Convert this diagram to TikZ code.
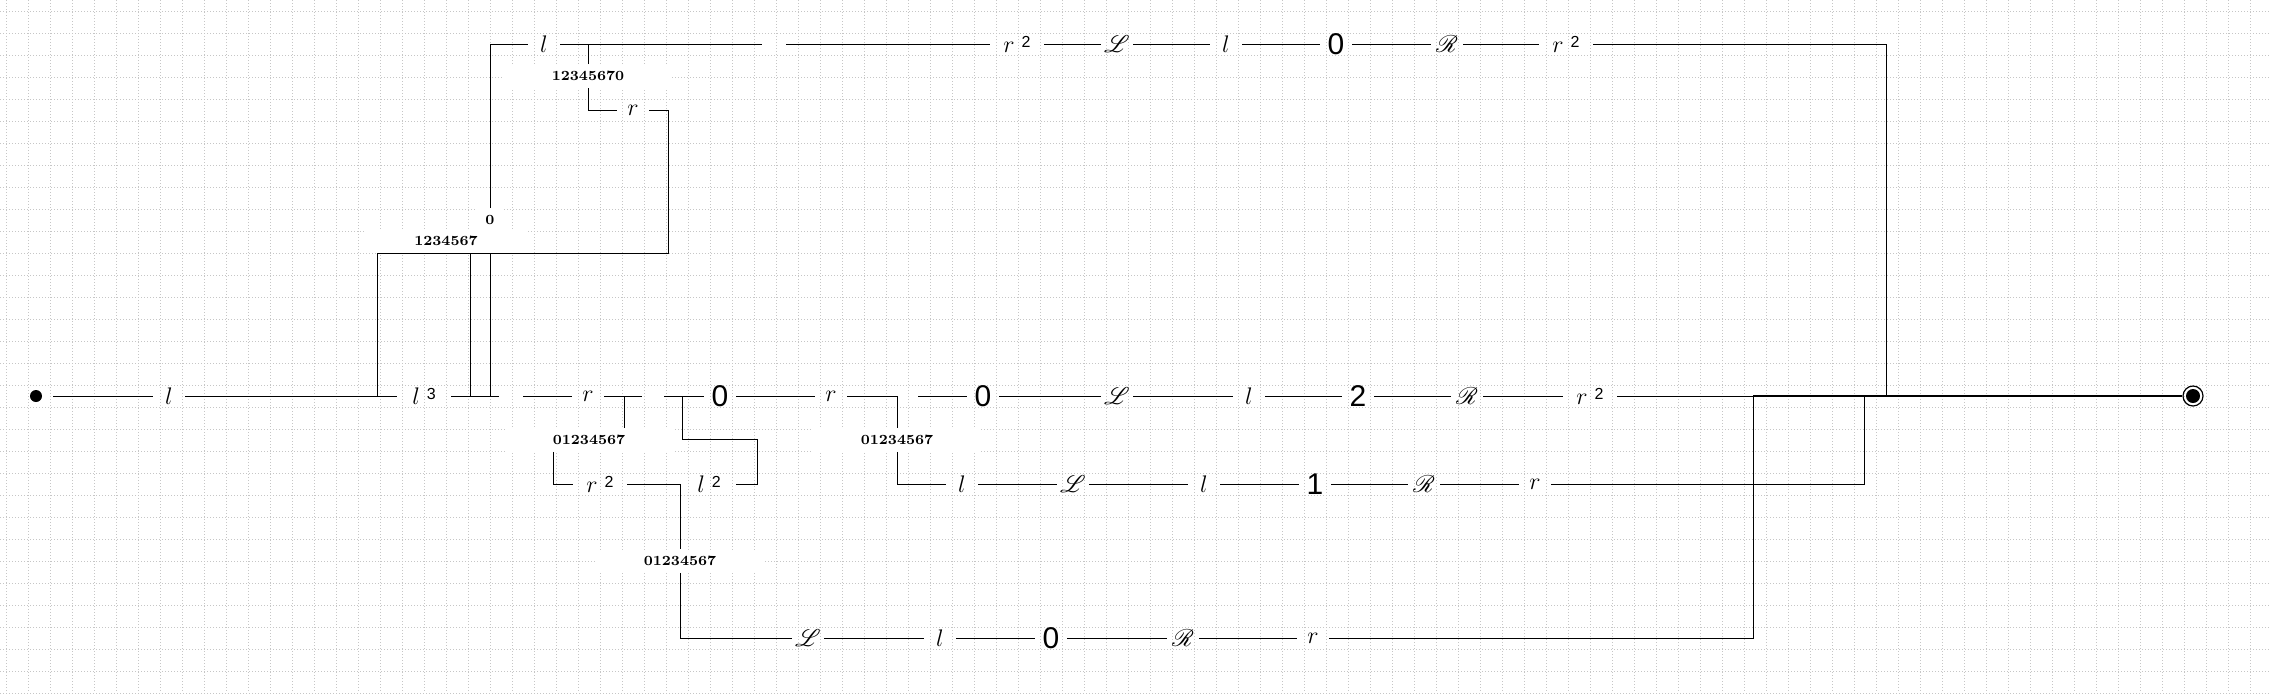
\documentclass[tikz,border=0pt]{standalone}
\usepackage{mathrsfs}
\usepackage{fontspec}
\newfontfamily\numfont{Liberation Sans}
\newcommand{\symexp}[2]{$#1$\hspace{3.5pt}\raisebox{2.5pt}{\numfont\fontsize{8}{8}\selectfont #2}}

\begin{document}
\begin{tikzpicture}[x=0.5pt,y=-0.5pt,
  gridline/.style={gray!45,line width=0.5pt,dash pattern=on 0.5pt off 1pt},
  wire/.style={line width=0.5pt},
  sym/.style={inner sep=0pt,minimum width=16pt,minimum height=10pt,font=\fontsize{12}{12}\selectfont},
  sqr/.style={sym,minimum width=27pt},
  num/.style={sym,font=\numfont\fontsize{15}{15}\selectfont},
  cnt/.style={fill=white,inner xsep=24pt,inner ysep=0pt,minimum height=11.5pt,font=\fontsize{7}{7}\selectfont\bfseries}]
\useasboundingbox (0,0) rectangle (2271,693);
\fill[white] (0,0) rectangle (2271,693);
\foreach \gx in {6,28,...,2271} \draw[gridline] (\gx,0) -- (\gx,693);
\foreach \gy in {11,33,...,693} \draw[gridline] (0,\gy) -- (2271,\gy);

\node[circle,fill,inner sep=0pt,minimum size=6pt,outer sep=5.5pt] (start) at (36,396) {};
\node[sym] (ml) at (169,396) {$l$};
\node[sqr] (ml3) at (424,396) {\symexp{l}{3}};
\node[sym] (mr) at (588,396) {$r$};
\node[num] (mza) at (720,396) {0};
\node[sym] (mrb) at (831,396) {$r$};
\node[num] (mzb) at (983,396) {0};
\node[sym] (mL) at (1117,396) {$\mathscr{L}$};
\node[sym] (mlb) at (1249,396) {$l$};
\node[num] (mtwo) at (1358,396) {2};
\node[sym] (mR) at (1467,396) {$\mathscr{R}$};
\node[sqr] (mr2) at (1590,396) {\symexp{r}{2}};

\node[sym] (tl) at (544,44) {$l$};
\node[sqr] (tr2a) at (1017,44) {\symexp{r}{2}};
\node[sym] (tL) at (1117,44) {$\mathscr{L}$};
\node[sym] (tlb) at (1226,44) {$l$};
\node[num] (tz) at (1336,44) {0};
\node[sym] (tR) at (1447,44) {$\mathscr{R}$};
\node[sqr] (tr2b) at (1566,44) {\symexp{r}{2}};

\node[cnt] (ca) at (588,76) {12345670};
\node[sym] (ur) at (633,110) {$r$};
\node[cnt] (cb) at (446,241) {1234567};
\node[cnt,inner xsep=4pt] (cz) at (490,220) {0};

\node[cnt] (cc) at (589,440) {01234567};
\node[sqr] (sr2) at (600,484) {\symexp{r}{2}};
\node[sqr] (sl2) at (709,484) {\symexp{l}{2}};
\node[cnt] (cd) at (680,561) {01234567};
\node[cnt] (ce) at (897,440) {01234567};
\node[sym] (sl) at (962,484) {$l$};
\node[sym] (sL) at (1073,484) {$\mathscr{L}$};
\node[sym] (slb) at (1204,484) {$l$};
\node[num] (sone) at (1315,484) {1};
\node[sym] (sR) at (1424,484) {$\mathscr{R}$};
\node[sym] (sr) at (1535,484) {$r$};

\node[sym] (bL) at (808,638) {$\mathscr{L}$};
\node[sym] (bl) at (940,638) {$l$};
\node[num] (bz) at (1051,638) {0};
\node[sym] (bR) at (1183,638) {$\mathscr{R}$};
\node[sym] (br) at (1313,638) {$r$};

\node[circle,draw,line width=0.6pt,inner sep=0pt,minimum size=10pt] (stop) at (2193,396) {};
\node[circle,fill,inner sep=0pt,minimum size=7pt] (stopdot) at (stop) {};

\coordinate (ta) at (490,44);
\coordinate (tgl) at (762,44);
\coordinate (tgr) at (786,44);
\coordinate (tb) at (1886,44);
\coordinate (tc) at (1886,396);
\coordinate (ja) at (588,44);
\coordinate (ua) at (588,110);
\coordinate (ub) at (668,110);
\coordinate (uc) at (668,253);
\coordinate (ud) at (377,253);
\coordinate (ue) at (377,396);
\coordinate (va) at (470,253);
\coordinate (vb) at (490,253);
\coordinate (vam) at (470,396);
\coordinate (vbm) at (490,396);
\coordinate (ma) at (499,396);
\coordinate (mb) at (523,396);
\coordinate (mc) at (642,396);
\coordinate (md) at (624,396);
\coordinate (me) at (664,396);
\coordinate (mf) at (682,396);
\coordinate (mg) at (897,396);
\coordinate (mh) at (918,396);
\coordinate (jb) at (1753,396);
\coordinate (jc) at (1864,396);
\coordinate (sa) at (553,484);
\coordinate (sb) at (680,484);
\coordinate (sc) at (682,439);
\coordinate (sd) at (757,439);
\coordinate (se) at (757,484);
\coordinate (sf) at (897,484);
\coordinate (sg) at (1864,484);
\coordinate (ba) at (680,638);
\coordinate (bb) at (1753,638);

\draw[wire] (start) -- (ml);
\draw[wire] (ml) -- (ml3);
\draw[wire] (ue) -- (ud) -- (uc) -- (ub) -- (ur);
\draw[wire] (ur) -- (ua) -- (ca);
\draw[wire] (ca) -- (ja);
\draw[wire] (cz) -- (ta) -- (tl);
\draw[wire] (tl) -- (tgl);
\draw[wire] (tgr) -- (tr2a) -- (tL) -- (tlb) -- (tz) -- (tR) -- (tr2b) -- (tb) -- (tc);
\draw[wire] (ml3) -- (ma);
\draw[wire] (vam) -- (va);
\draw[wire] (vbm) -- (vb);
\draw[wire] (mb) -- (mr) -- (mc);
\draw[wire] (md) -- (md |- cc.north);
\draw[wire] (cc.south -| sa) -- (sa) -- (sr2);
\draw[wire] (sr2) -- (sb) -- (cd);
\draw[wire] (cd) -- (ba) -- (bL) -- (bl) -- (bz) -- (bR) -- (br) -- (bb) -- (jb);
\draw[wire] (me) -- (mza);
\draw[wire] (mf) -- (sc) -- (sd) -- (se) -- (sl2);
\draw[wire] (mza) -- (mrb) -- (mg) -- (ce);
\draw[wire] (ce) -- (sf) -- (sl) -- (sL) -- (slb) -- (sone) -- (sR) -- (sr) -- (sg) -- (jc);
\draw[wire] (mh) -- (mzb) -- (mL) -- (mlb) -- (mtwo) -- (mR) -- (mr2) -- (jb);
\draw[wire,line width=1.2pt] (jb) -- (stop);
\end{tikzpicture}
\end{document}
